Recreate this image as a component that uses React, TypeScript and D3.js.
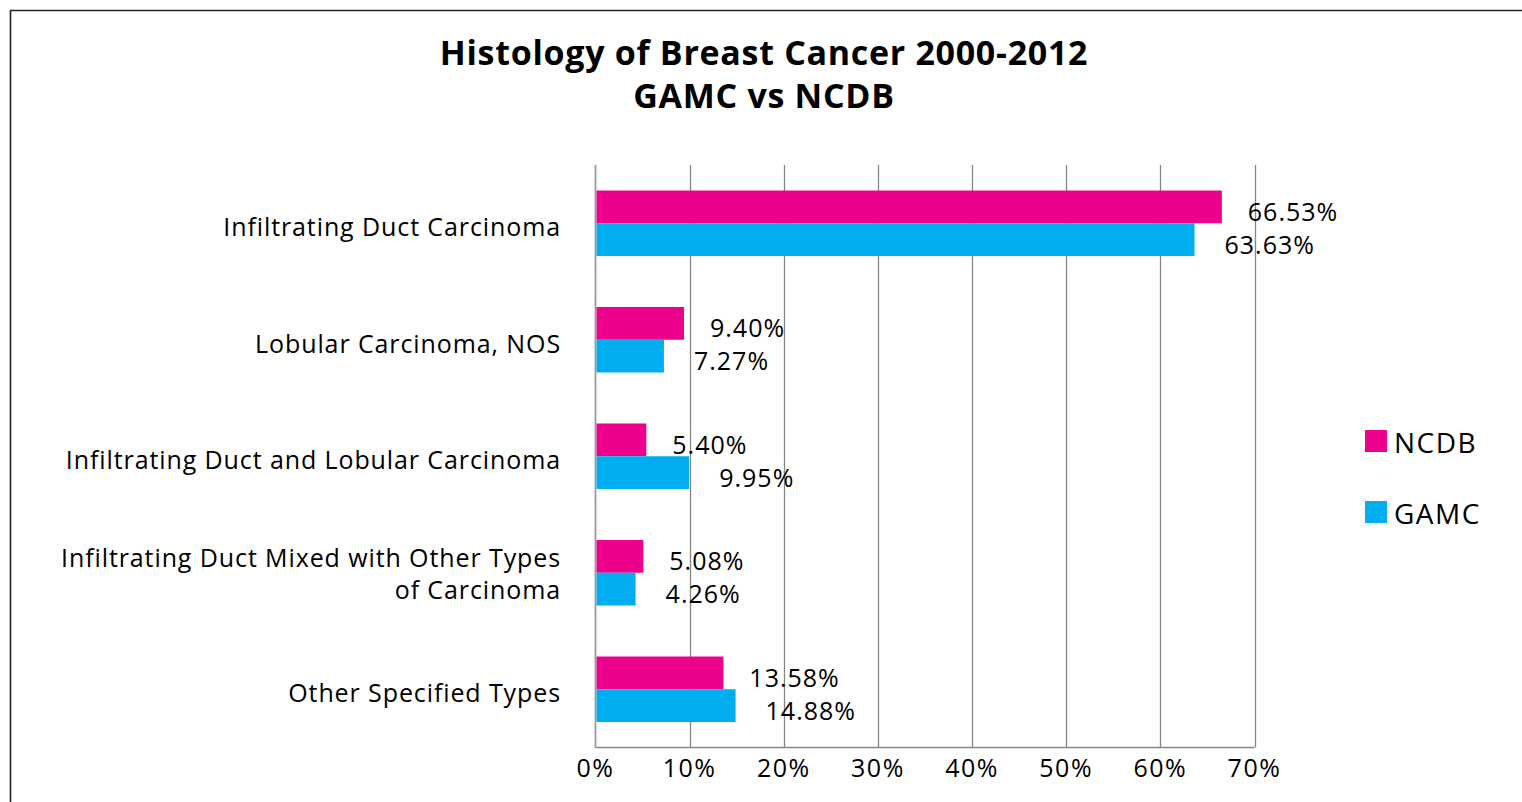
import * as d3 from 'd3';

const categories = [
  ['Infiltrating Duct Carcinoma'],
  ['Lobular Carcinoma, NOS'],
  ['Infiltrating Duct and Lobular Carcinoma'],
  ['Infiltrating Duct Mixed with Other Types', 'of Carcinoma'],
  ['Other Specified Types'],
];
const ncdbValues = [66.53, 9.40, 5.40, 5.08, 13.58];
const gamcValues = [63.63, 7.27, 9.95, 4.26, 14.88];
const seriesNames = ['NCDB', 'GAMC'];
const seriesColors = ['#EC008C', '#00AEEF'];
const xTicks = [0, 10, 20, 30, 40, 50, 60, 70];
const titleLines = ['Histology of Breast Cancer 2000-2012', 'GAMC vs NCDB'];

const W = 1522;
const H = 802;
const FONT = '"Open Sans", "Noto Sans", sans-serif';

export default function App() {
  const plot = { left: 595.5, right: 1254.5, top: 165, bottom: 747.5 };

  const x = d3.scaleLinear().domain([0, 70]).range([plot.left, plot.right]);
  const y = d3.scaleBand<number>()
    .domain(d3.range(categories.length))
    .range([plot.top, plot.bottom])
    .paddingInner(0.438)
    .paddingOuter(0.219);
  const sub = d3.scaleBand<number>().domain([0, 1]).range([0, y.bandwidth()]);

  const series = [ncdbValues, gamcValues];
  const labelOffset = [26, 30];

  return (
    <svg width={W} height={H} style={{ position: 'absolute', left: 0, top: 0 }} fontFamily={FONT}>
      <rect width={W} height={H} fill="#fff" />
      {/* frame */}
      <path d={`M10.5,${H + 2}V10.5H${W + 2}`} fill="none" stroke="#222" strokeWidth={1.6} />

      {/* title */}
      {titleLines.map((t, i) => (
        <text key={t} x={764} y={65 + i * 43} textAnchor="middle" fontSize={34} fontWeight="bold"
          letterSpacing={0.7} fill="#000">
          {t}
        </text>
      ))}

      {/* grid lines */}
      {xTicks.slice(1).map(t => (
        <line key={t} x1={Math.round(x(t)) + 0.5} x2={Math.round(x(t)) + 0.5} y1={plot.top} y2={plot.bottom}
          stroke="#868686" strokeWidth={1.3} />
      ))}
      {/* axes */}
      <line x1={plot.left} x2={plot.left} y1={plot.top} y2={plot.bottom} stroke="#9a9a9a" strokeWidth={1.8} />
      <line x1={plot.left} x2={plot.right} y1={plot.bottom} y2={plot.bottom} stroke="#868686" strokeWidth={1.5} />

      {/* bars */}
      {series.map((vals, s) =>
        vals.map((v, i) => {
          const by = (y(i) as number) + (sub(s) as number);
          return (
            <g key={`${s}-${i}`}>
              <rect x={x(0) + 1} y={by} width={x(v) - x(0) - 1} height={sub.bandwidth()} fill={seriesColors[s]} />
              <text x={x(v) + labelOffset[s]} y={by + sub.bandwidth() / 2 + 14} fontSize={25}
                letterSpacing={1} fill="#000">
                {v.toFixed(2)}%
              </text>
            </g>
          );
        })
      )}

      {/* category labels */}
      {categories.map((lines, i) => {
        const cy = (y(i) as number) + y.bandwidth() / 2;
        const lh = 32;
        return lines.map((l, j) => (
          <text key={`${i}-${j}`} x={561} y={cy - ((lines.length - 1) * lh) / 2 + j * lh + 13 - (lines.length > 1 ? 3 : 0)}
            textAnchor="end" fontSize={25} letterSpacing={0.9} fill="#000">
            {l}
          </text>
        ));
      })}

      {/* x tick labels */}
      {xTicks.map(t => (
        <text key={t} x={x(t)} y={777} textAnchor="middle" fontSize={25} letterSpacing={1.5} fill="#000">
          {t}%
        </text>
      ))}

      {/* legend */}
      {seriesNames.map((n, i) => (
        <g key={n} transform={`translate(1365, ${430 + i * 71})`}>
          <rect width={22} height={22} fill={seriesColors[i]} />
          <text x={29} y={23} fontSize={28} letterSpacing={1.5} fill="#000">{n}</text>
        </g>
      ))}
    </svg>
  );
}
